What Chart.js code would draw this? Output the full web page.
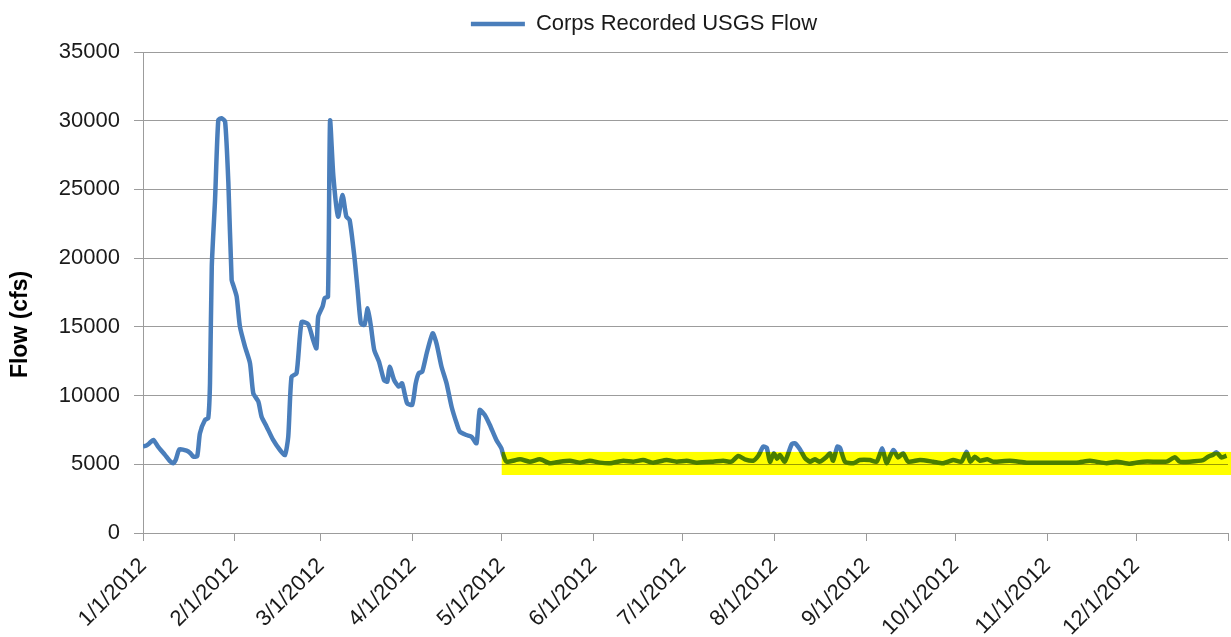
<!DOCTYPE html>
<html>
<head>
<meta charset="utf-8">
<script src="https://cdn.jsdelivr.net/npm/chart.js@4"></script>
<style>
  body { margin: 0; background: #fff; }
  #wrap { width: 1231px; height: 637px; }
</style>
</head>
<body>
<div id="wrap"><canvas id="flowChart"></canvas></div>
<script>
// day of year (0 = 1/1/2012) and flow
const days = [
  0, 1, 2, 3.5, 5, 7.4, 9, 10.2, 11, 12.3, 14.7, 16, 17, 18.3, 19.2, 20.9, 22, 22.6, 23.2, 24.3,
  25.4, 26.5, 27.7, 28.8, 29.9, 30.5, 31.6, 32.7, 34.4, 36.1, 37.2, 38.9, 40, 41.7, 43.9, 46.2, 47.9, 49, 50.1, 51.8,
  53.5, 55.7, 57.4, 58.5, 59.1, 60.6, 61.3, 62.4, 63.1, 64.2, 65.8, 67.3, 68.6, 69.7, 71.3, 72.4, 73.5, 74.7, 75.8, 76.9,
  78, 79.6, 81.3, 82.4, 83.2, 84.7, 86.3, 87.4, 89.1, 90.8, 92, 93, 94.2, 95.7, 97.7, 99, 100.7, 102.4, 104.1, 105.8,
  106.9, 109.1, 110.8, 112.5, 113.6, 115.3, 117, 119.2, 120.9, 121.5, 122.6, 127.2, 130.5, 133.9, 137.3, 140.6, 144, 147.4, 150.7, 154.1,
  157.5, 162, 165.4, 168.7, 172.1, 176.6, 180, 183.4, 186.7, 192.3, 195.7, 198.5, 200.8, 203, 205.8, 207.5, 209.2, 210.4, 211.5, 212.8,
  213.9, 214.8, 216.5, 218.8, 219.9, 221.6, 223.3, 225, 226.6, 228.3, 230.6, 231.7, 232.8, 234.2, 235.1, 236.8, 239.6, 241.8, 245.2, 247.5,
  249.4, 250.8, 253.1, 254.7, 256.4, 258.1, 262.1, 266.5, 269.9, 273.3, 276.1, 277.8, 279.1, 280.6, 282.3, 284.8, 286.8, 292.4, 298, 303.6,
  309.3, 314.9, 319.4, 321.6, 325, 328.4, 332.9, 337.4, 341.9, 345.3, 348.1, 349.7, 353.1, 357.6, 359.3, 361, 362.1, 363.8, 365.5
];
const flow = [
  6300, 6350, 6500, 6770, 6300, 5680, 5250, 5070, 5300, 6090, 5990, 5800, 5550, 5600, 7250, 8220, 8350, 10900, 19380, 24230,
  30050, 30180, 29930, 25450, 18410, 18000, 17200, 15010, 13560, 12350, 10170, 9560, 8460, 7740, 6770, 6040, 5680, 7010, 11370, 11620,
  15350, 15200, 14040, 13440, 15740, 16500, 17100, 17200, 30000, 26000, 23020, 24600, 23020, 22780, 20110, 17680, 15260, 15140, 16350, 15010,
  13320, 12470, 11130, 11010, 12100, 11130, 10650, 10890, 9440, 9320, 10890, 11620, 11740, 13080, 14530, 13800, 12100, 10890, 9190, 7980,
  7370, 7130, 7010, 6530, 8950, 8590, 7860, 6770, 6160, 5700, 5190, 5360, 5190, 5360, 5070, 5190, 5260, 5120, 5260, 5120,
  5070, 5260, 5190, 5310, 5120, 5310, 5190, 5260, 5120, 5190, 5260, 5190, 5600, 5360, 5260, 5600, 6280, 6200, 5190, 5800,
  5400, 5680, 5190, 6450, 6530, 6100, 5460, 5190, 5360, 5190, 5550, 5800, 5260, 6280, 6200, 5190, 5070, 5310, 5310, 5190,
  6160, 5070, 6040, 5500, 5800, 5190, 5310, 5190, 5070, 5310, 5190, 5920, 5190, 5550, 5260, 5360, 5190, 5260, 5120, 5120,
  5120, 5120, 5260, 5190, 5080, 5190, 5040, 5190, 5190, 5190, 5510, 5190, 5190, 5300, 5550, 5700, 5870, 5500, 5630
];

const tickDays = [0, 31, 60, 91, 121, 152, 182, 213, 244, 274, 305, 335, 366];
const tickLabels = ['1/1/2012', '2/1/2012', '3/1/2012', '4/1/2012', '5/1/2012', '6/1/2012',
  '7/1/2012', '8/1/2012', '9/1/2012', '10/1/2012', '11/1/2012', '12/1/2012', ''];

// highlighted range from 5/1 on
const bandStartDay = 121;
const bandRange = [4220, 5900];

const gridGray = '#9c9c9c';
const textColor = '#1a1a1a';
Chart.defaults.font.family = '"Liberation Sans", Arial, sans-serif';

const highlight = {
  id: 'highlight',
  afterDatasetsDraw(chart) {
    const { ctx, scales: { x, y } } = chart;
    const x0 = x.getPixelForValue(bandStartDay);
    const x1 = chart.width;
    const yTop = y.getPixelForValue(bandRange[1]);
    const yBot = y.getPixelForValue(bandRange[0]);
    ctx.save();
    ctx.globalCompositeOperation = 'multiply';
    ctx.fillStyle = '#ffff00';
    ctx.fillRect(x0, yTop, x1 - x0, yBot - yTop);
    ctx.restore();
  }
};

const legendShift = {
  id: 'legendShift',
  afterLayout(chart) {
    const lg = chart.legend;
    lg.left += 30;
    lg.right += 30;
    lg.top -= 7;
    lg.bottom -= 7;
  }
};

new Chart(document.getElementById('flowChart'), {
  type: 'line',
  data: {
    datasets: [{
      label: 'Corps Recorded USGS Flow',
      data: days.map((d, i) => ({ x: d, y: flow[i] })),
      borderColor: '#4a7ebb',
      backgroundColor: '#4a7ebb',
      borderWidth: 4.5,
      pointRadius: 0,
      pointStyle: 'line',
      tension: 0.2
    }]
  },
  options: {
    responsive: true,
    maintainAspectRatio: false,
    animation: false,
    layout: { padding: { top: 0, right: 3, left: 0, bottom: 0 } },
    plugins: {
      legend: {
        labels: {
          usePointStyle: true,
          pointStyleWidth: 54,
          color: textColor,
          font: { size: 22 },
          padding: 12
        }
      },
      tooltip: { enabled: false }
    },
    scales: {
      x: {
        type: 'linear',
        min: 0,
        max: 366,
        afterBuildTicks: s => { s.ticks = tickDays.map(v => ({ value: v })); },
        afterFit: s => { s.height = 104; s.paddingRight = 0; },
        grid: { drawOnChartArea: false, color: gridGray, tickLength: 8 },
        border: { color: gridGray },
        ticks: {
          autoSkip: false,
          minRotation: 45,
          maxRotation: 45,
          padding: 12,
          color: textColor,
          font: { size: 22 },
          callback: v => tickLabels[tickDays.indexOf(v)]
        }
      },
      y: {
        min: 0,
        max: 35000,
        afterFit: s => { s.width = 143; s.paddingTop = 52; },
        grid: { color: gridGray, tickLength: 9 },
        border: { color: gridGray },
        ticks: {
          stepSize: 5000,
          padding: 14,
          color: textColor,
          font: { size: 22 },
          callback: v => String(v)
        },
        title: {
          display: true,
          text: 'Flow (cfs)          ',
          color: '#000',
          font: { size: 23, weight: 'bold' },
          padding: { top: 7, bottom: 0 }
        }
      }
    }
  },
  plugins: [highlight, legendShift]
});
</script>
</body>
</html>
